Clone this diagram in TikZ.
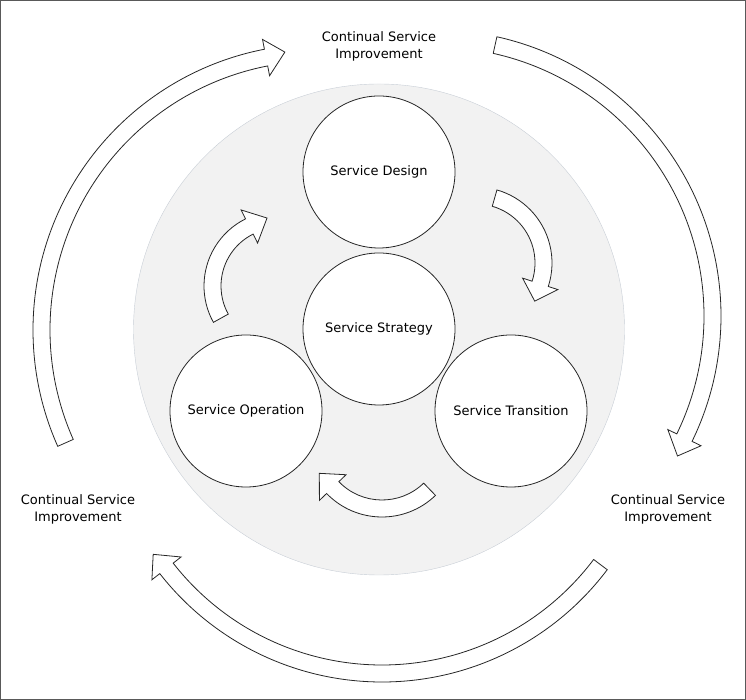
\documentclass[tikz,border=0pt]{standalone}
\usepackage{fontspec}
\setmainfont{DejaVu Sans}
\usetikzlibrary{positioning,calc}
\definecolor{corefill}{HTML}{F2F2F2}
\definecolor{coreline}{HTML}{C8CED6}

\tikzset{
  phase/.style={circle,draw=black!85,line width=.8pt,fill=white,minimum size=152pt,inner sep=0pt,font=\fontsize{13}{17}\selectfont},
  csilabel/.style={align=center,font=\fontsize{13}{17}\selectfont},
  arrowbody/.style={draw=black!85,line width=.8pt,fill=white,line join=miter},
}

% curved block arrow: centre x, centre y, outer radius, start angle, head angle, tip angle
\newcommand{\bendarrow}[6]{%
  \pgfmathsetmacro{\rin}{#3-17}\pgfmathsetmacro{\rbo}{#3+10}%
  \pgfmathsetmacro{\rbi}{#3-27}\pgfmathsetmacro{\rtip}{#3-6}%
  \draw[arrowbody] ([shift={(#1,#2)}]#4:#3) arc[start angle=#4,end angle=#5,radius=#3]
    -- ([shift={(#1,#2)}]#5:\rbo) -- ([shift={(#1,#2)}]#6:\rtip)
    -- ([shift={(#1,#2)}]#5:\rbi) -- ([shift={(#1,#2)}]#5:\rin)
    arc[start angle=#5,end angle=#4,radius=\rin] -- cycle;}

\begin{document}
\begin{tikzpicture}[x=1pt,y=1pt]
\useasboundingbox (0,0) rectangle (746,700);
\draw[black!65,line width=.8pt] (0.5,0.5) rectangle (745.5,699.5);

% continual service improvement ring
\bendarrow{319}{370}{286}{204}{101}{97}
\bendarrow{435}{384}{286}{77.5}{-26}{-30}
\bendarrow{382}{300}{282}{-37}{-142}{-146}
\node[csilabel] (csitop) at (379,653.5) {Continual Service\\Improvement};
\node[csilabel] (csileft) at (78,191) {Continual Service\\Improvement};
\node[csilabel] (csiright) at (668,191) {Continual Service\\Improvement};

% lifecycle core
\node[circle,fill=corefill,draw=coreline,minimum size=491pt] (core) at (379,370.5) {};
\node[phase] (strategy) at (379,371) {Service Strategy};
\node[phase] (design) at (379,528) {Service Design};
\node[phase] (transition) at (511,289) {Service Transition};
\node[phase] (operation) at (246,289) {Service Operation};
\bendarrow{279}{414}{75}{209}{116.5}{100}
\bendarrow{476}{437}{76}{74}{-18}{-33}
\bendarrow{382}{260}{77}{-46}{-136}{-152}
\end{tikzpicture}
\end{document}
